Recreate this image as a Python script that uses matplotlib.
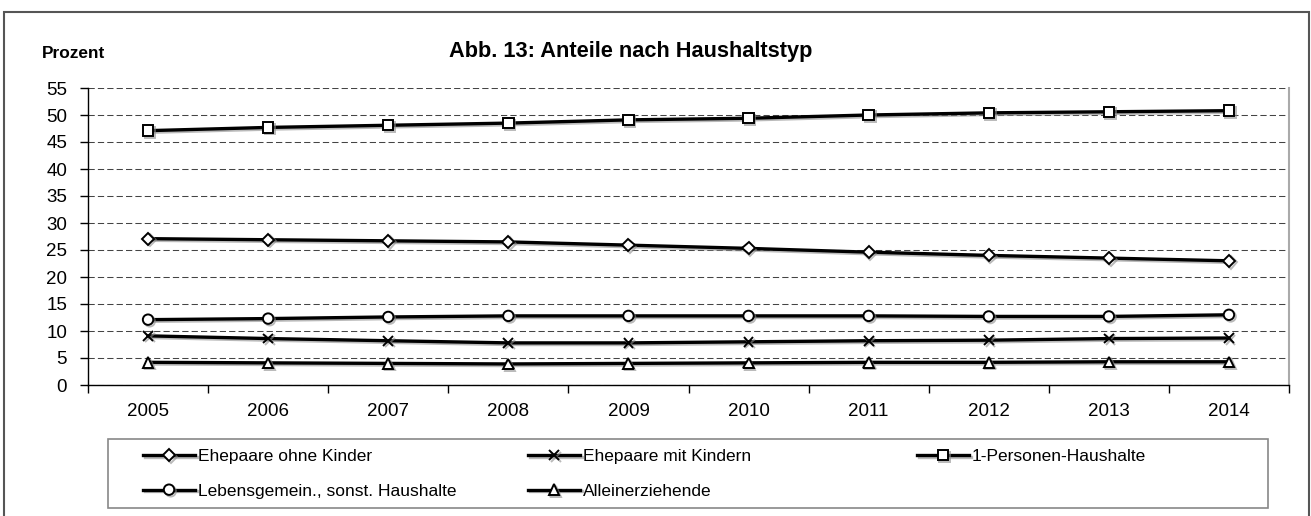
import matplotlib
matplotlib.use("Agg")
import matplotlib.pyplot as plt
import matplotlib.patheffects as pe
from matplotlib.patches import Rectangle

# --- Data (Anteile in Prozent) ---
years = ["2005", "2006", "2007", "2008", "2009", "2010", "2011", "2012", "2013", "2014"]
ehepaare_ohne = [27.1, 26.9, 26.7, 26.5, 25.9, 25.3, 24.6, 24.0, 23.5, 23.0]
ehepaare_mit = [9.1, 8.6, 8.2, 7.8, 7.8, 8.0, 8.2, 8.3, 8.6, 8.7]
ein_personen = [47.1, 47.7, 48.1, 48.5, 49.1, 49.4, 50.0, 50.4, 50.6, 50.8]
lebensgemein = [12.1, 12.3, 12.6, 12.8, 12.8, 12.8, 12.8, 12.7, 12.7, 13.0]
alleinerz = [4.2, 4.1, 4.0, 3.9, 4.0, 4.1, 4.2, 4.2, 4.3, 4.3]

labels = ["Ehepaare ohne Kinder", "Ehepaare mit Kindern", "1-Personen-Haushalte",
          "Lebensgemein., sonst. Haushalte", "Alleinerziehende"]

plt.rcParams["font.family"] = ["Liberation Sans", "DejaVu Sans"]

W, H = 1311, 516
fig = plt.figure(figsize=(W / 100, H / 100), dpi=100)
ax = fig.add_axes([88 / W, 1 - 385 / H, (1289 - 88) / W, (385 - 88) / H])

x = list(range(len(years)))
shadow = [pe.SimpleLineShadow(offset=(1.2, -1.2), shadow_color="0.55", alpha=0.6), pe.Normal()]
style = dict(color="black", lw=2.4, mfc="white", mec="black", mew=1.4, path_effects=shadow)

h1, = ax.plot(x, ehepaare_ohne, marker="D", ms=6.2, **style)
h2, = ax.plot(x, ehepaare_mit, marker="x", ms=7, **style)
h3, = ax.plot(x, ein_personen, marker="s", ms=7.5, **style)
h4, = ax.plot(x, lebensgemein, marker="o", ms=7.5, **style)
h5, = ax.plot(x, alleinerz, marker="^", ms=7.5, **style)

# --- Axes ---
ax.set_xlim(-0.5, len(years) - 0.5)
ax.set_ylim(0, 55)
ax.set_yticks(range(0, 56, 5))
ax.set_xticks(x)
ax.set_xticklabels(years)
ax.set_xticks([i - 0.5 for i in range(len(years) + 1)], minor=True)
ax.tick_params(axis="x", which="major", length=0, pad=13, labelsize=13.5)
ax.tick_params(axis="x", which="minor", length=6, width=1, direction="out")
ax.tick_params(axis="y", length=6, width=1, pad=9, labelsize=13.5)
ax.yaxis.grid(True, color="#444444", lw=0.75, linestyle=(0, (6, 3)))
ax.set_axisbelow(True)
ax.spines["top"].set_visible(False)
ax.spines["right"].set_color("#aaaaaa")
ax.spines["right"].set_linewidth(1.5)
for s in ["left", "bottom"]:
    ax.spines[s].set_color("black")
    ax.spines[s].set_linewidth(1)

# --- Titles ---
fig.text(631 / W, 1 - 52 / H, "Abb. 13: Anteile nach Haushaltstyp", ha="center", va="center",
         fontsize=15.7, fontweight="bold")
fig.text(42 / W, 1 - 54 / H, "Prozent", ha="left", va="center", fontsize=12.4, fontweight="bold")

# --- Legend (frame + three columns) ---
fig.add_artist(Rectangle((108 / W, 1 - 508 / H), (1268 - 108) / W, (508 - 439) / H,
                         transform=fig.transFigure, fill=False, ec="#888888", lw=1.2))
leg_kw = dict(loc="upper left", frameon=False, fontsize=12.5, handlelength=3.0,
              handletextpad=0.15, labelspacing=1.12, borderpad=0, borderaxespad=0)
top = 1 - 449 / H
fig.legend([h1, h4], [labels[0], labels[3]], bbox_to_anchor=(143 / W, top), **leg_kw)
fig.legend([h2, h5], [labels[1], labels[4]], bbox_to_anchor=(528 / W, top), **leg_kw)
fig.legend([h3], [labels[2]], bbox_to_anchor=(917 / W, top), **leg_kw)

# --- Outer frame ---
fig.add_artist(Rectangle((4 / W, -0.05), (1309 - 4) / W, 1.05 - 12 / H,
                         transform=fig.transFigure, fill=False, ec="#555555", lw=1.5))

fig.savefig("out.png", dpi=100)
